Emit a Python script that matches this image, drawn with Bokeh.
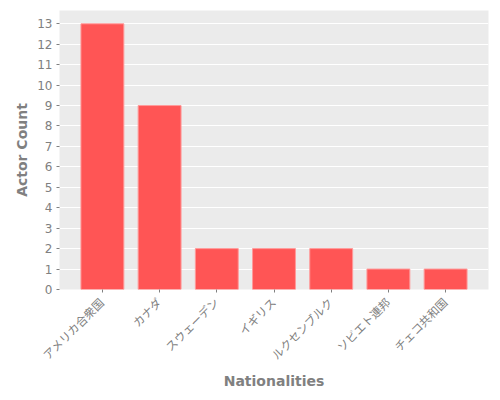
from bokeh.plotting import figure
from bokeh.models import ColumnDataSource, FactorRange, Range1d, FixedTicker
from bokeh.embed import file_html
from bokeh.resources import INLINE
import math

nationalities = ["アメリカ合衆国", "カナダ", "スウェーデン", "イギリス", "ルクセンブルク", "ソビエト連邦", "チェコ共和国"]
actor_counts = [13, 9, 2, 2, 2, 1, 1]
y_ticks = list(range(0, 14))

source = ColumnDataSource(data=dict(nat=nationalities, count=actor_counts))

p = figure(
    x_range=FactorRange(*nationalities, range_padding=0.25, range_padding_units="absolute"),
    y_range=Range1d(0, 13.65),
    width=492, height=392,
    output_backend="svg", toolbar_location=None,
    min_border_left=59, min_border_right=4, min_border_top=10, min_border_bottom=100,
)

p.vbar(x="nat", top="count", width=0.75, source=source,
       fill_color="#FF5555", line_color="#FF9A9A", line_width=1)

gray = "#808080"
p.background_fill_color = "#EBEBEB"
p.border_fill_color = "white"
p.outline_line_color = None
p.xgrid.grid_line_color = None
p.ygrid.grid_line_color = "white"
p.ygrid.grid_line_width = 1.2

p.yaxis.ticker = FixedTicker(ticks=y_ticks)
p.yaxis.axis_label = "Actor Count"
p.xaxis.axis_label = "Nationalities"

for ax in (p.xaxis, p.yaxis):
    ax.axis_line_color = None
    ax.major_tick_line_color = gray
    ax.major_tick_in = 0
    ax.major_tick_out = 3
    ax.minor_tick_line_color = None
    ax.major_label_text_color = gray
    ax.major_label_text_font = "DejaVu Sans, Noto Sans CJK JP"
    ax.major_label_text_font_size = "12px"
    ax.axis_label_text_color = gray
    ax.axis_label_text_font = "DejaVu Sans"
    ax.axis_label_text_font_style = "bold"
    ax.axis_label_text_font_size = "14px"

p.xaxis.major_label_text_font_size = "11.5px"
p.xaxis.major_label_orientation = math.pi / 4
p.xaxis.major_label_standoff = 8
p.xaxis.axis_label_standoff = 3
p.yaxis.axis_label_standoff = 4
p.yaxis.major_label_standoff = 4

open("out.html", "w").write(file_html(p, INLINE))
